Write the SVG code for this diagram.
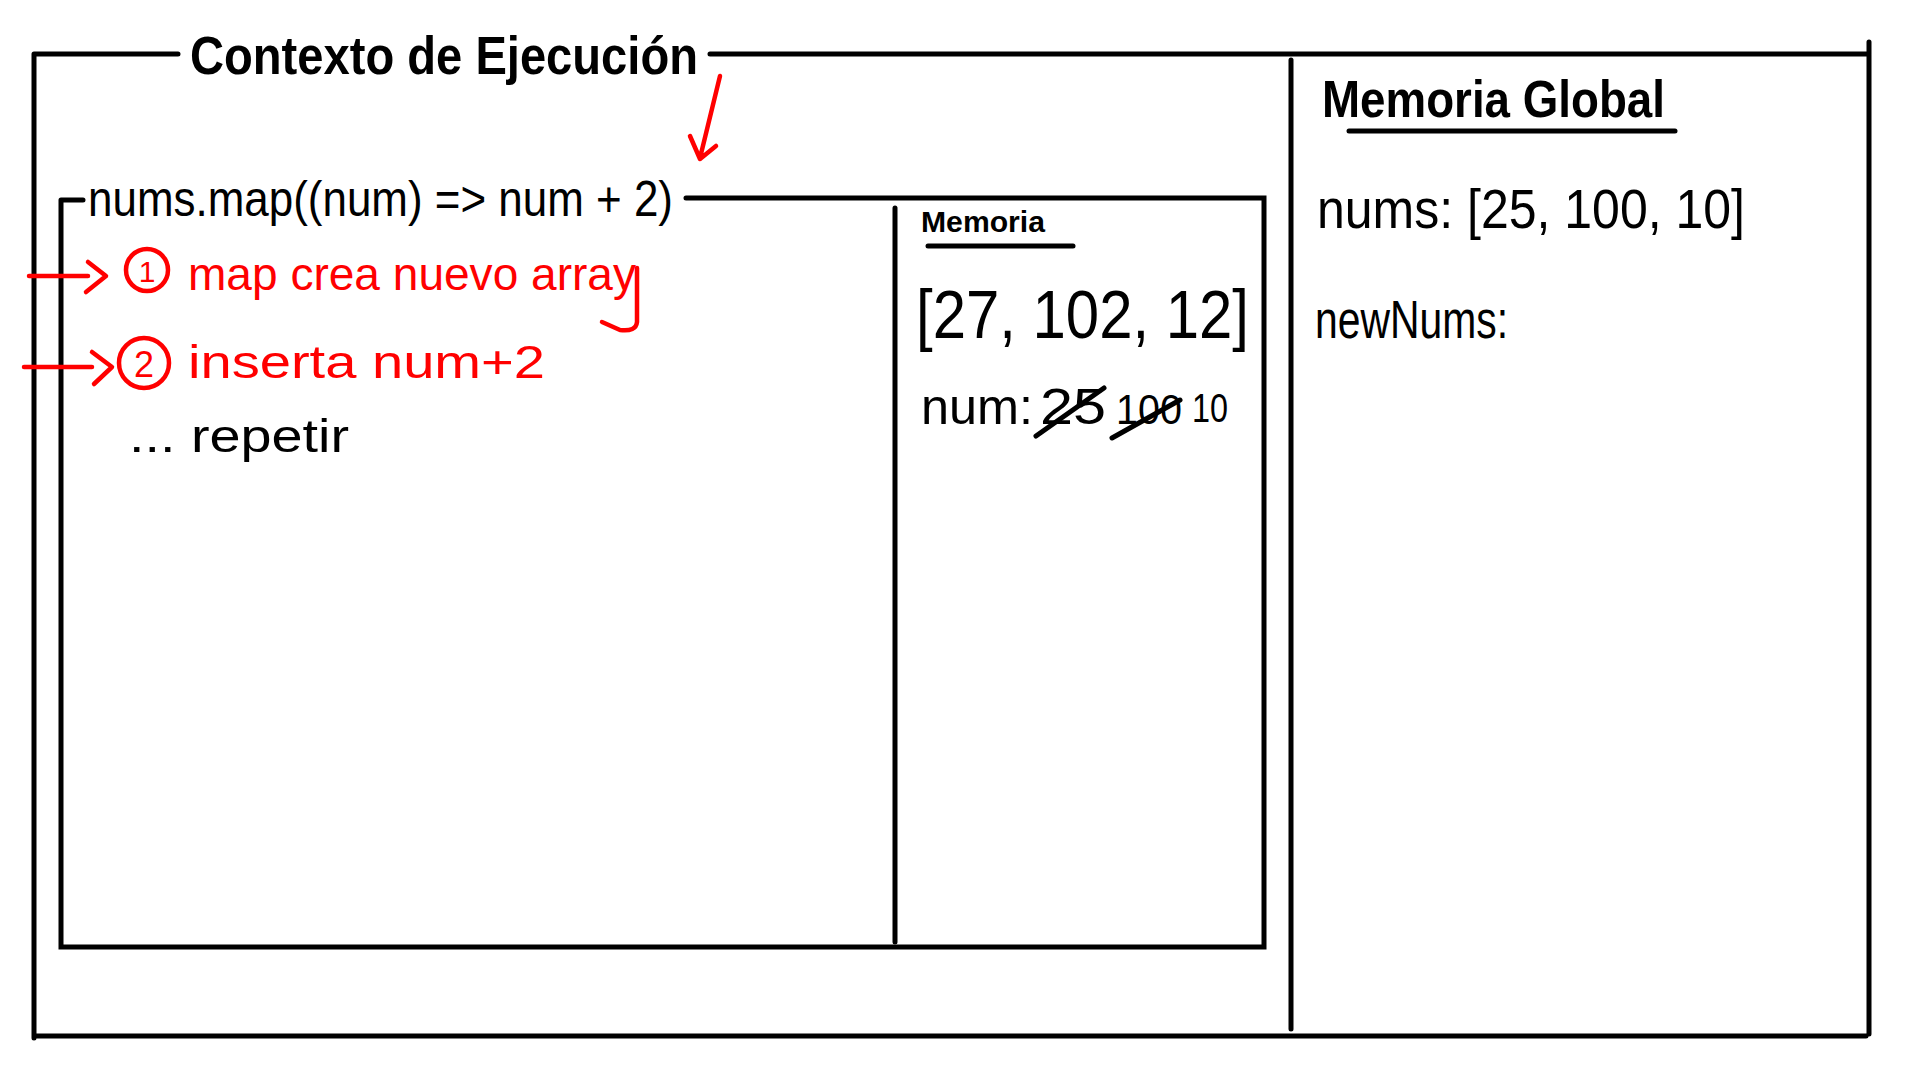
<svg xmlns="http://www.w3.org/2000/svg" width="1920" height="1080" viewBox="0 0 1920 1080">
<style>
.ln{stroke:#000;stroke-width:5;stroke-linecap:round;fill:none}
.rl{stroke:#f00;stroke-width:4.5;stroke-linecap:round;stroke-linejoin:round;fill:none}
.t{font-family:"Liberation Sans","DejaVu Sans",sans-serif;fill:#000}
.r{font-family:"Liberation Sans","DejaVu Sans",sans-serif;fill:#f00}
</style>
<rect width="1920" height="1080" fill="#fff"/>
<g id="execution-context">
<path class="ln" d="M34 54 H178 M710 54 H1869 M34 54 V1038 M34 1036 H1866 M1869 42 V1034"/>
<text class="t" x="190" y="74" font-size="54" font-weight="bold" textLength="508" lengthAdjust="spacingAndGlyphs">Contexto de Ejecución</text>
</g>
<g id="map-call">
<path class="ln" d="M61 200 H83 M61 200 V947 H1264 V198 H686"/>
<text class="t" x="88" y="216" font-size="50" textLength="585" lengthAdjust="spacingAndGlyphs">nums.map((num) =&gt; num + 2)</text>
<path class="ln" d="M895 208 V942"/>
</g>
<g id="local-memory">
<text class="t" x="921" y="232" font-size="30" font-weight="bold" textLength="124" lengthAdjust="spacingAndGlyphs">Memoria</text>
<path class="ln" d="M928 246 H1073"/>
<text class="t" x="916" y="338" font-size="68" textLength="333" lengthAdjust="spacingAndGlyphs">[27, 102, 12]</text>
<text class="t" x="921" y="424" font-size="50" textLength="112" lengthAdjust="spacingAndGlyphs">num:</text>
<text class="t" x="1040" y="424" font-size="50" textLength="66" lengthAdjust="spacingAndGlyphs">25</text>
<path class="ln" d="M1036 436 L1104 388" stroke-width="4"/>
<text class="t" x="1116" y="424" font-size="42" textLength="66" lengthAdjust="spacingAndGlyphs">100</text>
<path class="ln" d="M1112 438 L1180 400" stroke-width="4"/>
<text class="t" x="1192" y="422" font-size="40" textLength="36" lengthAdjust="spacingAndGlyphs">10</text>
</g>
<g id="global-memory">
<path class="ln" d="M1291 60 V1029"/>
<text class="t" x="1322" y="117" font-size="52" font-weight="bold" textLength="343" lengthAdjust="spacingAndGlyphs">Memoria Global</text>
<path class="ln" d="M1349 131 H1675"/>
<text class="t" x="1317" y="228" font-size="56" textLength="428" lengthAdjust="spacingAndGlyphs">nums: [25, 100, 10]</text>
<text class="t" x="1315" y="338" font-size="54" textLength="193" lengthAdjust="spacingAndGlyphs">newNums:</text>
</g>
<g id="steps">
<path class="rl" d="M29 276 H88 M88 262 L106 276 L86 292"/>
<circle class="rl" cx="147" cy="270" r="21"/>
<text class="r" x="147" y="282" font-size="30" text-anchor="middle">1</text>
<text class="r" x="188" y="290" font-size="46" textLength="448" lengthAdjust="spacingAndGlyphs">map crea nuevo array</text>
<path class="rl" d="M637 268 V322 Q636 332 620 330 L602 322"/>
<path class="rl" d="M24 367 H92 M92 352 L112 367 L94 384"/>
<circle class="rl" cx="144" cy="363" r="25"/>
<text class="r" x="144" y="377" font-size="36" text-anchor="middle">2</text>
<text class="r" x="188" y="378" font-size="46" textLength="357" lengthAdjust="spacingAndGlyphs">inserta  num+2</text>
<text class="t" x="129" y="452" font-size="46" textLength="220" lengthAdjust="spacingAndGlyphs">... repetir</text>
</g>
<g id="connectors">
<path class="rl" d="M720 76 L700 158 M690 136 L700 159 L716 146"/>
</g>
</svg>
